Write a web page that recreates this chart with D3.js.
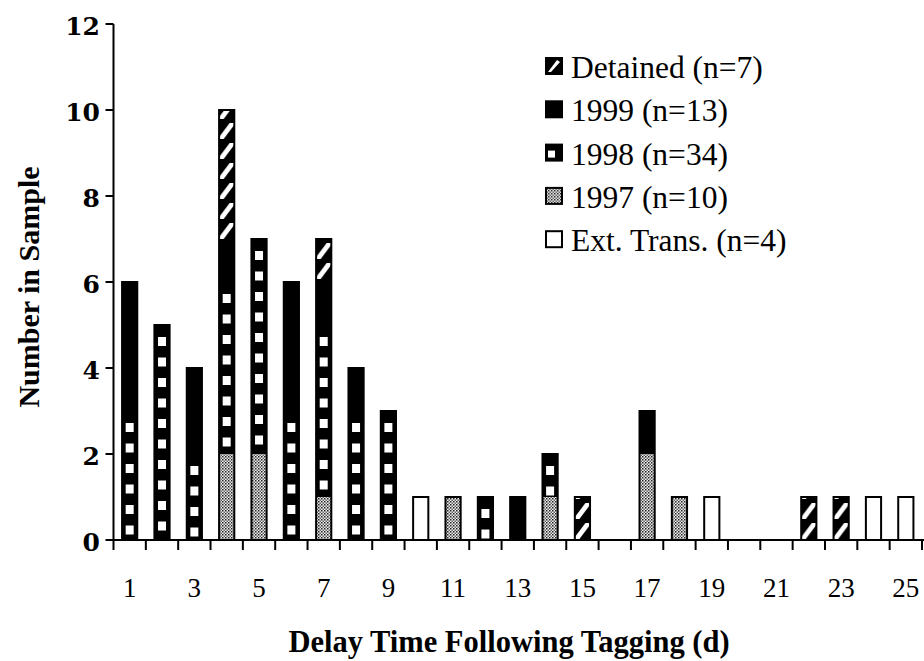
<!DOCTYPE html>
<html>
<head>
<meta charset="utf-8">
<script src="https://cdn.jsdelivr.net/npm/d3@7"></script>
<style>
  body { margin: 0; background: #fff; }
  svg { display: block; font-family: "Liberation Serif", "Times New Roman", serif; }
</style>
</head>
<body>
<svg id="chart" width="924" height="661"></svg>
<script>
// --- data
const days = ['1','2','3','4','5','6','7','8','9','10','11','12','13','14','15','16','17','18','19','20','21','22','23','24','25']
const y1997    = [0,0,0,2,2,0,1,0,0,0,1,0,0,1,0,0,2,1,0,0,0,0,0,0,0]
const y1998    = [3,5,2,4,5,3,4,3,3,0,0,1,0,1,0,0,0,0,0,0,0,0,0,0,0]
const y1999    = [3,0,2,1,0,3,1,1,0,0,0,0,1,0,0,0,1,0,0,0,0,0,0,0,0]
const detained = [0,0,0,3,0,0,1,0,0,0,0,0,0,0,1,0,0,0,0,0,0,1,1,0,0]
const extTrans = [0,0,0,0,0,0,0,0,0,1,0,0,0,0,0,0,0,0,1,0,0,0,0,1,1]
const xLabels = ['1','3','5','7','9','11','13','15','17','19','21','23','25']
const yTicks = [0,2,4,6,8,10,12]
const seriesKeys = ['y1997','y1998','y1999','detained','extTrans']
const legendKeys = ['detained','y1999','y1998','y1997','extTrans']
const legendLabels = ['Detained (n=7)','1999 (n=13)','1998 (n=34)','1997 (n=10)','Ext. Trans. (n=4)']

const rows = days.map((d, i) => ({
    day: d, y1997: y1997[i], y1998: y1998[i], y1999: y1999[i],
    detained: detained[i], extTrans: extTrans[i]
}))

const svg = d3.select('#chart')
svg.append('rect').attr('width', 924).attr('height', 661).attr('fill', '#fff')

// scales
const x = d3.scaleBand().domain(days).range([113.5, 922])
    .paddingInner(0.53).paddingOuter(0.265)
const y = d3.scaleLinear().domain([0, 12]).range([540, 24])
const step = x.step()
const cx = step / 2

// patterns, tiled one per band so every bar gets the same layout
const defs = svg.append('defs')
const pDet = defs.append('pattern').attr('id', 'pDetained')
    .attr('patternUnits', 'userSpaceOnUse')
    .attr('x', x.range()[0]).attr('y', y(0)).attr('width', step).attr('height', 20)
pDet.append('rect').attr('width', step).attr('height', 20).attr('fill', '#000')
pDet.append('path').attr('d', `M${cx - 9},${19} L${cx - 3},${19} L${cx + 9},${3} L${cx + 3},${3} Z`)
    .attr('fill', '#fff')

const p97 = defs.append('pattern').attr('id', 'p1997')
    .attr('patternUnits', 'userSpaceOnUse').attr('width', 3).attr('height', 3)
p97.append('rect').attr('width', 3).attr('height', 3).attr('fill', '#ececec')
p97.append('rect').attr('width', 1.5).attr('height', 1.5).attr('fill', '#222')
p97.append('rect').attr('x', 1.5).attr('y', 1.5).attr('width', 1.5).attr('height', 1.5).attr('fill', '#666')

const fills = {
    y1997: 'url(#p1997)', y1998: '#000', y1999: '#000',
    detained: 'url(#pDetained)', extTrans: '#fff'
}

// --- bars
const stacked = d3.stack().keys(seriesKeys)(rows)
const barsG = svg.append('g').attr('class', 'bars')
stacked.forEach(layer => {
    barsG.selectAll(null).data(layer.filter(d => d[1] > d[0])).enter()
        .append('rect')
        .attr('x', d => x(d.data.day))
        .attr('y', d => y(d[1]))
        .attr('width', x.bandwidth())
        .attr('height', d => y(d[0]) - y(d[1]))
        .attr('fill', fills[layer.key])
})

// 1998: white squares running down each segment from its top
const seg98 = stacked.find(l => l.key === 'y1998').filter(d => d[1] > d[0])
const squares = seg98.flatMap(d => d3.range(y(d[1]) + 12, y(d[0]) - 9, 20.5)
    .map(top => ({ day: d.data.day, top })))
barsG.selectAll('rect.sq').data(squares).enter().append('rect').attr('class', 'sq')
    .attr('x', d => x(d.day) + x.bandwidth() / 2 - 4)
    .attr('y', d => d.top)
    .attr('width', 8).attr('height', 9)
    .attr('fill', '#fff')

// outline round the whole bar
barsG.selectAll('rect.outline')
    .data(rows.filter(r => seriesKeys.some(k => r[k] > 0))).enter()
    .append('rect').attr('class', 'outline')
    .attr('x', d => x(d.day))
    .attr('y', d => y(d3.sum(seriesKeys, k => d[k])))
    .attr('width', x.bandwidth())
    .attr('height', d => y(0) - y(d3.sum(seriesKeys, k => d[k])))
    .attr('fill', 'none').attr('stroke', '#000').attr('stroke-width', 2)

// --- axes
const axisG = svg.append('g').attr('stroke', '#000').attr('stroke-width', 2)
axisG.append('line').attr('x1', x.range()[0]).attr('x2', x.range()[0])
    .attr('y1', y(12)).attr('y2', y(0))
axisG.append('line').attr('x1', x.range()[0]).attr('x2', 924)
    .attr('y1', y(0)).attr('y2', y(0))
axisG.selectAll('line.ytick').data(yTicks).enter().append('line')
    .attr('x1', x.range()[0] - 8).attr('x2', x.range()[0])
    .attr('y1', d => y(d)).attr('y2', d => y(d))
axisG.selectAll('line.xtick').data(d3.range(days.length + 1)).enter().append('line')
    .attr('x1', i => x.range()[0] + i * step).attr('x2', i => x.range()[0] + i * step)
    .attr('y1', y(0)).attr('y2', y(0) + 10)

svg.selectAll('text.ylab').data(yTicks).enter().append('text')
    .attr('x', 100).attr('y', d => y(d) + 11)
    .attr('text-anchor', 'end')
    .style('font-family', '"DejaVu Serif", serif').style('font-weight', 'bold').style('font-size', '25px')
    .text(d => d)

svg.selectAll('text.xlab').data(xLabels).enter().append('text')
    .attr('x', d => x(d) + x.bandwidth() / 2).attr('y', 597)
    .attr('text-anchor', 'middle').style('font-size', '27px')
    .text(d => d)

svg.append('text').attr('x', 509).attr('y', 652).attr('text-anchor', 'middle')
    .style('font-weight', 'bold').style('font-size', '30.5px')
    .text('Delay Time Following Tagging (d)')

svg.append('text').attr('transform', 'translate(39,287) rotate(-90)')
    .attr('text-anchor', 'middle')
    .style('font-weight', 'bold').style('font-size', '30px')
    .text('Number in Sample')

// --- legend
const legend = svg.append('g').attr('transform', 'translate(545,0)')
const items = legend.selectAll('g.item').data(legendKeys).enter().append('g')
    .attr('transform', (d, i) => `translate(0,${78 + i * 43.3})`)
items.append('rect').attr('x', 1).attr('y', -20).attr('width', 16).attr('height', 16)
    .attr('fill', d => d === 'y1997' ? 'url(#p1997)' : d === 'extTrans' ? '#fff' : '#000')
    .attr('stroke', '#000').attr('stroke-width', 2)
items.filter(d => d === 'detained').append('path')
    .attr('d', 'M3,-6 L6,-6 L15,-16 L12,-18 Z').attr('fill', '#fff')
items.filter(d => d === 'y1998').append('rect')
    .attr('x', 3).attr('y', -14).attr('width', 7).attr('height', 7).attr('fill', '#fff')
items.append('text').attr('x', 26).attr('y', 0).style('font-size', '31.5px')
    .text((d, i) => legendLabels[i])
</script>
</body>
</html>
